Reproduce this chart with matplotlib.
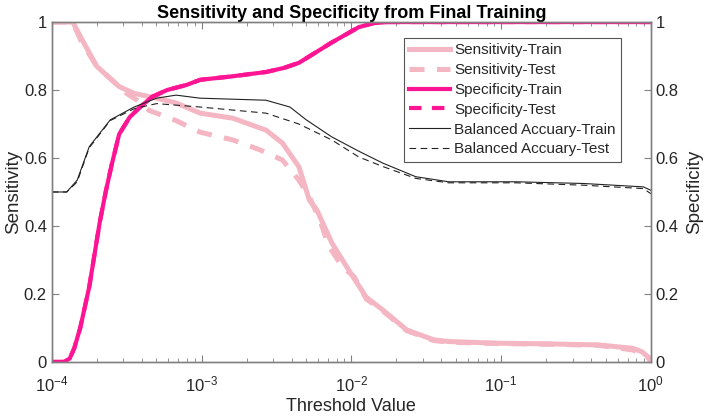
import matplotlib
matplotlib.use("Agg")
import matplotlib.pyplot as plt
import numpy as np

plt.rcParams['font.family'] = ['Liberation Sans', 'DejaVu Sans']
plt.rcParams['mathtext.fontset'] = 'custom'
plt.rcParams['mathtext.rm'] = 'Liberation Sans'

# log10 of threshold value and the curve values
sens_train_x = [-4, -3.86, -3.8, -3.7, -3.6, -3.55, -3.45, -3.3, -3.17, -3.01, -2.79, -2.57,
                -2.46, -2.35, -2.28, -2.23, -2.13, -2.01, -1.9, -1.79, -1.63, -1.45, -1.35,
                -1.01, -0.68, -0.35, -0.12, -0.06, -0.02, 0]
sens_train_y = [1, 1, 0.95, 0.87, 0.83, 0.81, 0.79, 0.776, 0.762, 0.732, 0.717, 0.682,
                0.644, 0.574, 0.476, 0.447, 0.35, 0.265, 0.19, 0.153, 0.094, 0.065, 0.06,
                0.055, 0.053, 0.05, 0.04, 0.03, 0.015, 0.005]

sens_test_x = [-4, -3.86, -3.8, -3.7, -3.6, -3.5, -3.43, -3.35, -3.17, -3.01, -2.79, -2.61,
               -2.46, -2.35, -2.28, -2.21, -2.15, -2.06, -1.98, -1.9, -1.79, -1.63, -1.45,
               -1.35, -1.01, -0.68, -0.35, -0.12, -0.07, -0.03, 0]
sens_test_y = [1, 1, 0.94, 0.87, 0.83, 0.79, 0.77, 0.74, 0.71, 0.676, 0.653, 0.624,
               0.594, 0.535, 0.485, 0.418, 0.34, 0.28, 0.25, 0.185, 0.15, 0.092, 0.063,
               0.058, 0.054, 0.052, 0.049, 0.035, 0.025, 0.02, 0.0]

spec_train_x = [-4, -3.92, -3.88, -3.85, -3.81, -3.75, -3.68, -3.64, -3.6, -3.55, -3.48, -3.41,
                -3.33, -3.23, -3.1, -3.01, -2.8, -2.57, -2.45, -2.35, -2.24, -2.13, -2.03,
                -1.95, -1.85, -1.75, 0]
spec_train_y = [0, 0, 0.01, 0.04, 0.10, 0.22, 0.41, 0.50, 0.58, 0.67, 0.72, 0.75,
                0.78, 0.80, 0.815, 0.83, 0.84, 0.853, 0.865, 0.88, 0.91, 0.94, 0.965,
                0.985, 0.997, 1, 1]
spec_test_x = spec_train_x
spec_test_y = [0, 0, 0.01, 0.04, 0.10, 0.22, 0.41, 0.50, 0.58, 0.67, 0.72, 0.75,
               0.78, 0.80, 0.815, 0.83, 0.84, 0.853, 0.865, 0.88, 0.91, 0.94, 0.965,
               0.985, 0.997, 1, 1]

bal_train_x = [-4, -3.9, -3.83, -3.75, -3.61, -3.45, -3.3, -3.17, -3.01, -2.57, -2.41, -2.3,
               -2.13, -1.95, -1.79, -1.57, -1.35, -0.9, -0.45, -0.05, 0]
bal_train_y = [0.5, 0.5, 0.535, 0.633, 0.712, 0.75, 0.776, 0.785, 0.776, 0.77, 0.75, 0.712,
               0.662, 0.62, 0.585, 0.545, 0.53, 0.53, 0.525, 0.515, 0.505]
bal_test_x = [-4, -3.9, -3.83, -3.75, -3.61, -3.45, -3.3, -3.01, -2.57, -2.35, -2.13, -1.95,
              -1.79, -1.57, -1.35, -0.9, -0.45, -0.05, 0]
bal_test_y = [0.5, 0.5, 0.53, 0.63, 0.71, 0.745, 0.76, 0.75, 0.732, 0.70, 0.653, 0.603,
              0.575, 0.54, 0.527, 0.527, 0.52, 0.51, 0.495]

pink = '#F4B6C2'
magenta = '#FF1493'
axis_gray = '#808080'
text_col = '#262626'

fig = plt.figure(figsize=(7.09, 4.16), dpi=100)
ax = fig.add_axes([0.073, 0.130, 0.845, 0.817])

ax.plot(10 ** np.array(sens_train_x), sens_train_y, color=pink, lw=3.6, label='Sensitivity-Train')
ax.plot(10 ** np.array(sens_test_x), sens_test_y, color=pink, lw=3.6, ls=(0, (3, 2.5)), label='Sensitivity-Test')
ax.plot(10 ** np.array(spec_train_x), spec_train_y, color=magenta, lw=3, label='Specificity-Train')
ax.plot(10 ** np.array(spec_test_x), spec_test_y, color=magenta, lw=3, ls=(0, (3, 2.5)), label='Specificity-Test')
ax.plot(10 ** np.array(bal_train_x), bal_train_y, color='#222222', lw=0.8, label='Balanced Accuary-Train')
ax.plot(10 ** np.array(bal_test_x), bal_test_y, color='#222222', lw=0.8, ls=(0, (6, 4)), label='Balanced Accuary-Test')

ax.set_xscale('log')
ax.set_xlim(1e-4, 1)
ax.set_ylim(0, 1)
ax.set_yticks([0, 0.2, 0.4, 0.6, 0.8, 1])
ax.set_yticklabels(['0', '0.2', '0.4', '0.6', '0.8', '1'])

ax2 = ax.twinx()
ax2.set_ylim(0, 1)
ax2.set_yticks([0, 0.2, 0.4, 0.6, 0.8, 1])
ax2.set_yticklabels(['0', '0.2', '0.4', '0.6', '0.8', '1'])

for a in (ax, ax2):
    for s in a.spines.values():
        s.set_color(axis_gray)
        s.set_linewidth(1.0)
    a.tick_params(which='both', direction='in', colors=axis_gray, labelcolor=text_col, labelsize=12)
    a.tick_params(which='major', length=5)
    a.tick_params(which='minor', length=3)
ax.tick_params(which='both', top=True)
ax.tick_params(axis='x', which='major', pad=9)

ax.set_title('Sensitivity and Specificity from Final Training', fontsize=13, fontweight='bold', color='black', pad=3)
ax.set_xlabel('Threshold Value', fontsize=13, color=text_col, labelpad=3)
ax.set_ylabel('Sensitivity', fontsize=13.5, color=text_col, labelpad=1)
ax2.set_ylabel('Specificity', fontsize=13.5, color=text_col, labelpad=5)

leg = ax.legend(loc='upper right', bbox_to_anchor=(0.95, 0.953), borderaxespad=0, fontsize=11,
                handlelength=2.7, labelspacing=0.38, borderpad=0.35, handletextpad=0.25,
                fancybox=False, framealpha=1)
leg.get_frame().set_edgecolor('#555555')
leg.get_frame().set_linewidth(0.8)
for t in leg.get_texts():
    t.set_color(text_col)

fig.savefig('out.png', dpi=100)
